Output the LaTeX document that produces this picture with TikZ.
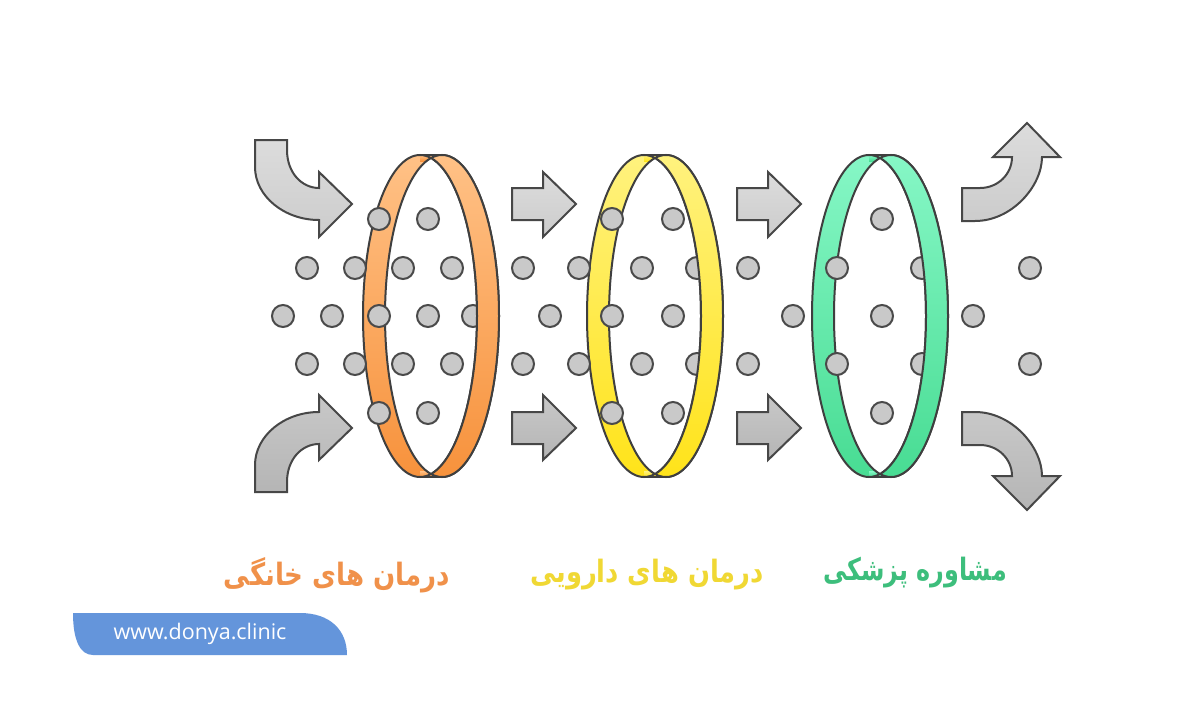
\documentclass[tikz,border=0pt]{standalone}
\usepackage{fontspec}
\setmainfont{DejaVu Sans}
\newfontfamily\arabicfont[Script=Arabic]{DejaVu Sans}
\newfontfamily\urlfont{Open Sans}
\TeXXeTstate=1
\definecolor{ringstroke}{HTML}{3F3F3F}
\definecolor{dotfill}{HTML}{C9C9C9}
\definecolor{dotstroke}{HTML}{4A4A4A}
\definecolor{arrowstroke}{HTML}{474747}
\definecolor{arrowA}{HTML}{DCDCDC}
\definecolor{arrowB}{HTML}{CCCCCC}
\definecolor{arrowC}{HTML}{C8C8C8}
\definecolor{arrowD}{HTML}{B5B5B5}
\definecolor{orangeA}{HTML}{FFC186}
\definecolor{orangeB}{HTML}{F7923C}
\definecolor{yellowA}{HTML}{FFF27E}
\definecolor{yellowB}{HTML}{FFE31A}
\definecolor{greenA}{HTML}{86F7C6}
\definecolor{greenB}{HTML}{48DC93}
\definecolor{orangeT}{HTML}{F0914A}
\definecolor{yellowT}{HTML}{F0D834}
\definecolor{greenT}{HTML}{3DBE7C}
\definecolor{tabblue}{HTML}{6495DB}
\tikzset{
  arrowup/.style={draw=arrowstroke, line width=2pt, line join=miter, top color=arrowA, bottom color=arrowB},
  arrowlow/.style={draw=arrowstroke, line width=2pt, line join=miter, top color=arrowC, bottom color=arrowD},
  ringline/.style={draw=ringstroke, line width=2pt},
  dotnode/.style={circle, draw=dotstroke, fill=dotfill, line width=2pt, minimum size=22pt, inner sep=0pt},
  labeltext/.style={font=\arabicfont\bfseries\fontsize{28}{32}\selectfont, inner sep=0pt},
}
% ring made of two horizontally offset ellipses
\newcommand{\ringbase}[3]{%
  \path[top color=#2, bottom color=#3] (#1-11,316) ellipse[x radius=57, y radius=161];
  \path[top color=#2, bottom color=#3] (#1+11,316) ellipse[x radius=57, y radius=161];
  \path[top color=#2, bottom color=#3] (#1-11,155) rectangle (#1+11,161);
  \path[top color=#2, bottom color=#3] (#1-11,471) rectangle (#1+11,477);
  \begin{scope}
    \clip (#1-11,316) ellipse[x radius=57, y radius=161];
    \fill[white] (#1+11,316) ellipse[x radius=57, y radius=161];
  \end{scope}
  \draw[ringline] (#1-11,316) ellipse[x radius=57, y radius=161];
  \draw[ringline] (#1+11,316) ellipse[x radius=57, y radius=161];
  \draw[ringline] (#1-11,155) -- (#1+11,155);
  \draw[ringline] (#1-11,477) -- (#1+11,477);
}
\newcommand{\ringback}[3]{%
  \begin{scope}
    \clip (#1+1,100) rectangle (#1+90,540);
    \path[ringline, even odd rule, top color=#2, bottom color=#3]
      (#1-11,316) ellipse[x radius=57, y radius=161]
      (#1+11,316) ellipse[x radius=57, y radius=161];
  \end{scope}
}
\begin{document}
\begin{tikzpicture}[x=1pt,y=-1pt]
\path[use as bounding box, fill=white] (0,0) rectangle (1200,720);

% left curved arrows
\path[arrowup] (255,140) -- (287,140) -- (287,150) .. controls (287,173) and (302,188) .. (319,188)
  -- (319,172) -- (352,204) -- (319,237) -- (319,220)
  .. controls (284,220) and (255,196) .. (255,167) -- cycle;
\path[arrowlow] (255,492) -- (287,492) -- (287,482) .. controls (287,459) and (302,444) .. (319,444)
  -- (319,460) -- (352,428) -- (319,395) -- (319,412)
  .. controls (284,412) and (255,436) .. (255,465) -- cycle;

% straight arrows
\foreach \s in {0,225}{
  \path[arrowup] (512+\s,188) -- (543+\s,188) -- (543+\s,172) -- (576+\s,204) -- (543+\s,237) -- (543+\s,220) -- (512+\s,220) -- cycle;
  \path[arrowlow] (512+\s,412) -- (543+\s,412) -- (543+\s,395) -- (576+\s,428) -- (543+\s,460) -- (543+\s,444) -- (512+\s,444) -- cycle;
}

% right curved arrows
\path[arrowup] (962,188) -- (980,188) .. controls (998,188) and (1012,174) .. (1012,157)
  -- (993,157) -- (1027,123) -- (1060,157) -- (1042,157)
  .. controls (1042,186) and (1012,221) .. (975,221) -- (962,221) -- cycle;
\path[arrowlow] (962,445) -- (980,445) .. controls (998,445) and (1012,459) .. (1012,476)
  -- (993,476) -- (1027,510) -- (1060,476) -- (1042,476)
  .. controls (1042,447) and (1012,412) .. (975,412) -- (962,412) -- cycle;

% rings
\ringbase{431}{orangeA}{orangeB}
\ringbase{655}{yellowA}{yellowB}
\ringbase{880}{greenA}{greenB}

% dots
\foreach \x [count=\i] in {379,428,612,673,882}
  \node[dotnode] (ra-\i) at (\x,219) {};
\foreach \x [count=\i] in {307,355,403,452,523,579,642,697,748,837,922,1030}
  \node[dotnode] (rb-\i) at (\x,268) {};
\foreach \x [count=\i] in {283,332,379,428,473,550,612,673,793,882,973}
  \node[dotnode] (rc-\i) at (\x,316) {};
\foreach \x [count=\i] in {307,355,403,452,523,579,642,697,748,837,922,1030}
  \node[dotnode] (rd-\i) at (\x,364) {};
\foreach \x [count=\i] in {379,428,612,673,882}
  \node[dotnode] (re-\i) at (\x,413) {};

% back bands over dots
\ringback{431}{orangeA}{orangeB}
\ringback{655}{yellowA}{yellowB}
\ringback{880}{greenA}{greenB}

% labels
\node[labeltext, text=orangeT] (lab-home) at (337,575) {\scalebox{0.93}[1.1]{\beginR درمان های خانگی\endR}};
\node[labeltext, text=yellowT] (lab-drug) at (647,575) {\scalebox{0.92}[1.1]{\beginR درمان های دارویی\endR}};
\node[labeltext, text=greenT] (lab-consult) at (915,573) {\scalebox{0.85}[1.1]{\beginR مشاوره پزشکی\endR}};

% web tab
\path[fill=tabblue] (73,613) -- (300,613) .. controls (330,613) and (347,630) .. (347,655)
  -- (93,655) .. controls (80,655) and (73,640) .. (73,613) -- cycle;
\node[font=\urlfont\fontsize{21.5}{24}\selectfont, text=white, inner sep=0pt] (url) at (200,634) {www.donya.clinic};
\end{tikzpicture}
\end{document}
